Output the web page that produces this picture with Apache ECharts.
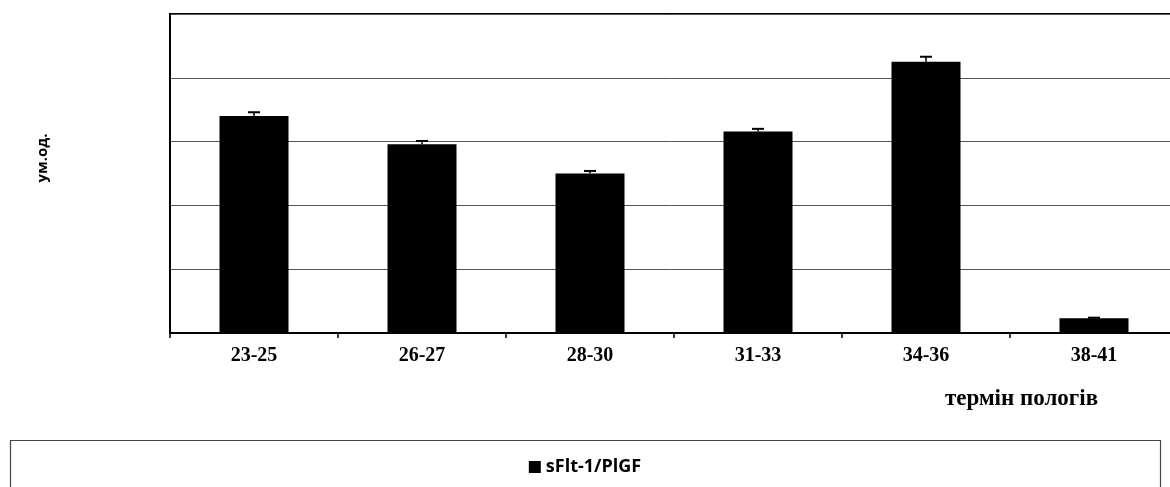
<!DOCTYPE html>
<html><head><meta charset="utf-8">
<script src="https://cdn.jsdelivr.net/npm/echarts@6/dist/echarts.min.js"></script>
<style>html,body{margin:0;padding:0;background:#fff}#c{width:1170px;height:487px}</style>
</head><body><div id="c"></div>
<script>
const categories = ['23-25', '26-27', '28-30', '31-33', '34-36', '38-41'];
const values = [3.40, 2.96, 2.50, 3.16, 4.25, 0.23];
const errorUpper = [3.46, 3.01, 2.54, 3.20, 4.33, 0.24];
const seriesName = 'sFlt-1/PlGF';
const yMin = 0, yMax = 5, yInterval = 1;

const chart = echarts.init(document.getElementById('c'));
chart.setOption({
  animation: false,
  grid: { left: 170, top: 14, width: 1008, bottom: 154, outerBoundsMode: 'none', containLabel: false, show: true, borderColor: '#000', borderWidth: 2, backgroundColor: 'transparent' },
  legend: {
    data: [seriesName], top: 453, left: 'center', icon: 'rect', itemWidth: 12, itemHeight: 12, itemGap: 3,
    textStyle: { fontFamily: 'Open Sans', fontWeight: 'bold', fontSize: 18, color: '#000' }
  },
  xAxis: {
    type: 'category', data: categories,
    axisLine: { lineStyle: { color: '#000', width: 2 } },
    axisTick: { show: true, length: 5, lineStyle: { color: '#000', width: 1.5 } },
    axisLabel: { fontFamily: 'Liberation Serif', fontWeight: 'bold', fontSize: 20, color: '#000', margin: 13 }
  },
  yAxis: {
    type: 'value', min: yMin, max: yMax, interval: yInterval,
    axisLine: { show: true, lineStyle: { color: '#000', width: 2 } },
    axisTick: { show: false }, axisLabel: { show: false },
    splitLine: { lineStyle: { color: '#555', width: 1 } }
  },
  graphic: [
    { type: 'text', x: 43, y: 158, rotation: Math.PI / 2, style: { text: 'ум.од.', font: 'bold 15px "Open Sans"', fill: '#000', align: 'center', verticalAlign: 'middle' } },
    { type: 'text', left: 945, top: 388, style: { text: 'термін пологів', font: 'bold 23px "Liberation Serif"', fill: '#000' } },
    { type: 'rect', shape: { x: 10.5, y: 440.5, width: 1150, height: 60 }, style: { fill: 'none', stroke: '#444', lineWidth: 1.2 }, z: -1 }
  ],
  series: [
    { name: seriesName, type: 'bar', data: values, barWidth: 69, itemStyle: { color: '#000' } },
    {
      type: 'custom', name: 'err', silent: true, z: 5,
      data: categories.map((c, i) => [i, values[i], errorUpper[i]]),
      renderItem: function (params, api) {
        const x = api.value(0);
        const lo = api.coord([x, api.value(1)]);
        const hi = api.coord([x, api.value(2)]);
        const hw = 6;
        return { type: 'group', children: [
          { type: 'line', shape: { x1: lo[0], y1: lo[1], x2: hi[0], y2: hi[1] }, style: { stroke: '#000', lineWidth: 1.5 } },
          { type: 'line', shape: { x1: hi[0] - hw, y1: hi[1], x2: hi[0] + hw, y2: hi[1] }, style: { stroke: '#000', lineWidth: 2 } }
        ] };
      }
    }
  ]
});
</script></body></html>
